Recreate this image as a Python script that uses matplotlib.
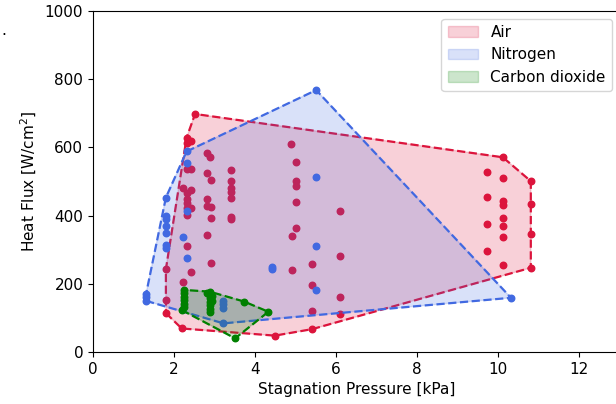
import matplotlib
matplotlib.use("Agg")
import matplotlib.pyplot as plt
import numpy as np

# ---------------- data ----------------
air_x = [2.52, 2.31, 2.41, 2.31, 2.81, 2.90, 2.31, 2.41, 2.81, 2.91,
         3.41, 3.41, 3.41, 3.41, 3.41, 2.21, 2.41, 2.31, 2.31, 2.31,
         2.31, 2.31, 2.41, 2.81, 2.81, 2.91, 2.91, 3.41, 3.41, 2.81,
         2.31, 2.91, 2.41, 2.21, 1.80, 1.80, 1.80, 2.19,
         4.90, 5.01, 5.01, 5.01, 5.01, 6.11, 5.01, 4.91,
         6.11, 5.41, 4.91, 5.41, 6.11, 5.41, 6.11, 5.41, 4.49,
         9.72, 10.12, 10.12, 10.81, 9.72, 10.12, 10.12, 10.81, 10.12, 10.12,
         9.72, 10.12, 10.81, 9.72, 10.12, 10.81]
air_y = [698, 628, 620, 612, 584, 573, 537, 537, 526, 504,
         534, 501, 480, 470, 451, 480, 475, 465, 450, 436,
         421, 402, 421, 448, 428, 424, 392, 397, 390, 343,
         312, 260, 235, 204, 243, 152, 114, 69,
         609, 556, 501, 487, 439, 413, 365, 340,
         281, 259, 240, 196, 162, 121, 111, 67, 48,
         527, 509, 571, 501, 454, 444, 431, 433, 394, 369,
         375, 336, 345, 297, 255, 247]

n2_x = [1.31, 1.31, 1.31, 1.80, 1.80, 1.80, 1.80, 1.80, 1.80, 1.80,
        2.21, 2.31, 2.31, 2.31, 2.31, 3.22, 3.22, 3.22, 3.22,
        4.41, 4.41, 5.51, 5.51, 5.51, 5.51, 10.32]
n2_y = [170, 160, 150, 453, 400, 390, 370, 350, 315, 305,
        338, 588, 553, 414, 277, 150, 140, 130, 84,
        250, 242, 768, 514, 311, 182, 159]

co2_x = [2.25, 2.25, 2.25, 2.25, 2.25, 2.25, 2.19, 2.81, 2.88, 2.88,
         2.88, 2.88, 2.88, 2.88, 2.88, 2.95, 2.95, 3.73, 4.33, 3.51]
co2_y = [182, 172, 162, 152, 142, 132, 123, 172, 177, 167,
         157, 147, 137, 127, 118, 165, 150, 148, 118, 40]

gases = ["Air", "Nitrogen", "Carbon dioxide"]
colors = ["crimson", "royalblue", "green"]


def hull(xs, ys):
    pts = sorted(set(zip(xs, ys)))

    def cross(o, a, b):
        return ((a[0] - o[0]) * 40.5 * (b[1] - o[1]) * 0.341
                - (a[1] - o[1]) * 0.341 * (b[0] - o[0]) * 40.5)
    lower = []
    for p in pts:
        while len(lower) >= 2 and cross(lower[-2], lower[-1], p) <= 0:
            lower.pop()
        lower.append(p)
    upper = []
    for p in reversed(pts):
        while len(upper) >= 2 and cross(upper[-2], upper[-1], p) <= 0:
            upper.pop()
        upper.append(p)
    h = lower[:-1] + upper[:-1]
    h.append(h[0])
    return [p[0] for p in h], [p[1] for p in h]


fig = plt.figure(figsize=(6.16, 4.04), dpi=100)
ax = fig.add_axes([93 / 616, 52 / 404, 13 * 40.5 / 616, 341 / 404])

for (xs, ys), name, c in zip([(air_x, air_y), (n2_x, n2_y), (co2_x, co2_y)],
                             gases, colors):
    ax.scatter(xs, ys, s=22, color=c, zorder=2)
    hx, hy = hull(xs, ys)
    ax.fill(hx, hy, color=c, alpha=0.2, label=name, zorder=2)
    ax.plot(hx, hy, "--", color=c, lw=1.6, zorder=2)

ax.set_xlim(0, 13)
ax.set_ylim(0, 1000)
ax.set_xticks([0, 2, 4, 6, 8, 10, 12])
ax.set_yticks([0, 200, 400, 600, 800, 1000])
ax.tick_params(labelsize=11)
ax.set_xlabel("Stagnation Pressure [kPa]", fontsize=11)
ax.set_ylabel("Heat Flux [W/cm$^2$]", fontsize=11)
ax.legend(loc="upper right", fontsize=11)

fig.text(0.003, 1 - 35 / 404, ".", fontsize=11)

fig.savefig("out.png", dpi=100)
